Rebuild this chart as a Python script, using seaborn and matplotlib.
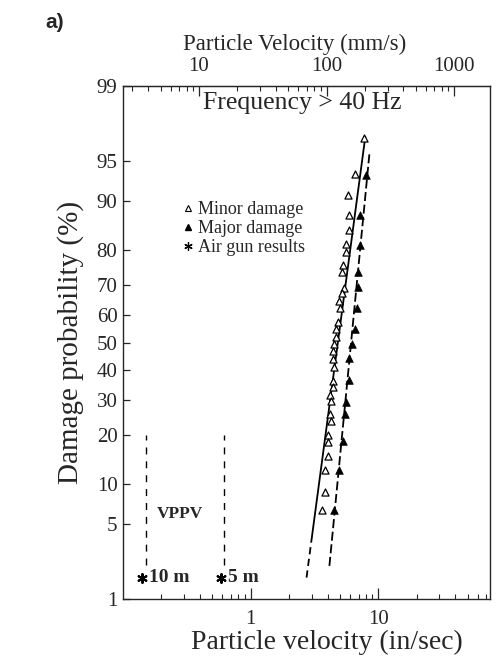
import math
import numpy as np
import pandas as pd
import matplotlib
matplotlib.use("Agg")
import matplotlib.pyplot as plt
import seaborn as sns
from matplotlib.lines import Line2D
from matplotlib.ticker import FixedLocator, FuncFormatter, LogLocator, NullLocator, NullFormatter

## data (velocity in in/sec, probability in %)
minor_v = [7.77, 6.61, 5.83, 5.93, 5.93, 5.62, 5.62, 5.33, 5.23, 5.42, 5.23, 4.96,
           5.05, 4.87, 4.70, 4.70, 4.53, 4.45, 4.45, 4.53, 4.45, 4.45, 4.22, 4.29,
           4.22, 4.29, 4.07, 4.07, 4.00, 3.85, 3.85, 3.59]
minor_p = [96.8, 93.7, 90.9, 87.6, 84.6, 81.5, 79.3, 75.8, 73.8, 68.9, 67.3, 64.7,
           62.3, 57.5, 55.0, 52.1, 49.3, 46.8, 44.0, 41.1, 36.3, 34.3, 31.7, 29.8,
           25.9, 23.9, 20.0, 18.3, 15.2, 12.4, 8.8, 6.4]

major_v = [8.06, 7.23, 7.23, 6.98, 6.98, 6.85, 6.61, 6.26, 5.93, 5.93, 5.62, 5.52,
           5.33, 4.96, 4.53]
major_p = [93.6, 87.6, 81.2, 73.8, 69.2, 62.3, 55.0, 49.6, 44.3, 36.7, 29.5, 25.9,
           18.5, 12.4, 6.4]

# fitted lines (solid part + dashed extension for minor damage)
minor_fit_v = [3.02, 7.91]
minor_fit_p = [3.9, 96.9]
minor_ext_v = [2.74, 3.02]
minor_ext_p = [1.65, 3.9]
major_fit_v = [4.14, 8.51]
major_fit_p = [2.14, 95.6]

# air gun results
airgun_v = [0.141, 0.583]
airgun_p = [1.65, 1.65]
airgun_labels = ["10 m", "5 m"]
vppv_v = [0.151, 0.615]
vppv_p = [2.2, 20.0]

y_ticks = [1, 5, 10, 20, 30, 40, 50, 60, 70, 80, 90, 95, 99]
x_ticks = [1, 10]
top_ticks = [10, 100, 1000]


## normal probability scale (no scipy here)
A = [-3.969683028665376e+01, 2.209460984245205e+02, -2.759285104469687e+02,
     1.383577518672690e+02, -3.066479806614716e+01, 2.506628277459239e+00]
B = [-5.447609879822406e+01, 1.615858368580409e+02, -1.556989798598866e+02,
     6.680131188771972e+01, -1.328068155288572e+01]
C = [-7.784894002430293e-03, -3.223964580411365e-01, -2.400758277161838e+00,
     -2.549671348251281e+00, 4.374664141464968e+00, 2.938163982698783e+00]
D = [7.784695709041462e-03, 3.224671290700398e-01, 2.445134137142996e+00,
     3.754408661907416e+00]
PLOW = 0.02425


def probit(pct):
    shape = np.shape(pct)
    p = np.atleast_1d(np.clip(np.asarray(pct, dtype=float) / 100.0, 1e-9, 1 - 1e-9))
    z = np.empty_like(p)
    lo = p < PLOW
    hi = p > 1 - PLOW
    mid = ~(lo | hi)
    q = p[mid] - 0.5
    r = q * q
    z[mid] = ((((((A[0]*r + A[1])*r + A[2])*r + A[3])*r + A[4])*r + A[5]) * q /
              (((((B[0]*r + B[1])*r + B[2])*r + B[3])*r + B[4])*r + 1))
    q = np.sqrt(-2 * np.log(p[lo]))
    z[lo] = (((((C[0]*q + C[1])*q + C[2])*q + C[3])*q + C[4])*q + C[5]) / \
            ((((D[0]*q + D[1])*q + D[2])*q + D[3])*q + 1)
    q = np.sqrt(-2 * np.log(1 - p[hi]))
    z[hi] = -(((((C[0]*q + C[1])*q + C[2])*q + C[3])*q + C[4])*q + C[5]) / \
             ((((D[0]*q + D[1])*q + D[2])*q + D[3])*q + 1)
    return z.reshape(shape)


_erf = np.vectorize(math.erf, otypes=[float])


def inv_probit(z):
    z = np.asarray(z, dtype=float)
    return 50.0 * (1.0 + _erf(z / math.sqrt(2.0)))


sns.set_style("ticks")
plt.rcParams['font.family'] = ['Liberation Serif', 'DejaVu Serif']

fig = plt.figure(figsize=(5.0, 6.58), dpi=100)
ax = fig.add_axes([123/500, 1 - 599/658, (490 - 123)/500, (599 - 86)/658])

ax.set_xscale('log')
ax.set_yscale('function', functions=(probit, inv_probit))

minor_df = pd.DataFrame({"v": minor_v, "p": minor_p})
major_df = pd.DataFrame({"v": major_v, "p": major_p})

ax.plot(minor_fit_v, minor_fit_p, color="black", lw=1.3, zorder=2)
ax.plot(minor_ext_v, minor_ext_p, color="black", lw=1.3, dashes=(4, 2.5), zorder=2)
ax.plot(major_fit_v, major_fit_p, color="black", lw=1.3, dashes=(5, 2), zorder=2)

sns.scatterplot(data=minor_df, x="v", y="p", marker="^", s=26, color="white",
                edgecolor="black", linewidth=0.9, ax=ax, zorder=3)
sns.scatterplot(data=major_df, x="v", y="p", marker="^", s=30, color="black",
                edgecolor="black", linewidth=0.5, ax=ax, zorder=3)

# air gun results + VPPV lines
for v in vppv_v:
    ax.plot([v, v], vppv_p, color="black", lw=1.0, dashes=(5, 5))
ax.scatter(airgun_v, airgun_p, marker=(6, 2, 0), s=40, color="black", linewidth=1.5)
for v, p, lab in zip(airgun_v, airgun_p, airgun_labels):
    ax.annotate(lab, (v, p), xytext=(5, 0), textcoords="offset points",
                ha="left", va="center", fontsize=14, fontweight="bold")
ax.text(0.279, 5.95, "VPPV", ha="center", va="center", fontsize=12.5, fontweight="bold")

ax.text(0.488, 0.967, "Frequency > 40 Hz", transform=ax.transAxes,
        ha="center", va="center", fontsize=18.5)

handles = [
    Line2D([], [], ls="none", marker="^", ms=4.5, mfc="white", mec="black", mew=0.8),
    Line2D([], [], ls="none", marker="^", ms=4.5, mfc="black", mec="black"),
    Line2D([], [], ls="none", marker=(6, 2, 0), ms=6, color="black", mew=0.9),
]
ax.legend(handles, ["Minor damage", "Major damage", "Air gun results"],
          loc="upper left", bbox_to_anchor=(0.165, 0.775), frameon=False,
          fontsize=13, handlelength=0.5, handletextpad=0.3, labelspacing=0.1,
          borderpad=0, borderaxespad=0)

ax.set_xlim(0.1, 75)
ax.set_ylim(1, 99)

ax.yaxis.set_major_locator(FixedLocator(y_ticks))
ax.yaxis.set_major_formatter(FuncFormatter(lambda v, pos: f"{v:g}"))
ax.yaxis.set_minor_locator(NullLocator())
ax.xaxis.set_major_locator(FixedLocator(x_ticks))
ax.xaxis.set_major_formatter(FuncFormatter(lambda v, pos: f"{v:g}"))
ax.xaxis.set_minor_locator(LogLocator(base=10, subs=np.arange(2, 10)))
ax.xaxis.set_minor_formatter(NullFormatter())

ax.tick_params(axis="y", which="major", direction="in", length=5, width=0.9,
               labelsize=15, pad=4)
ax.tick_params(axis="x", which="major", direction="in", length=8, width=0.9,
               labelsize=15, pad=8)
ax.tick_params(axis="x", which="minor", direction="in", length=3.5, width=0.8)
for s in ax.spines.values():
    s.set_linewidth(1.0)
    s.set_visible(True)

# top axis in mm/s
secax = ax.secondary_xaxis("top", functions=(lambda v: v * 25.4, lambda m: m / 25.4))
secax.xaxis.set_major_locator(FixedLocator(top_ticks))
secax.xaxis.set_major_formatter(FuncFormatter(lambda v, pos: f"{v:g}"))
secax.xaxis.set_minor_locator(LogLocator(base=10, subs=np.arange(2, 10)))
secax.xaxis.set_minor_formatter(NullFormatter())
secax.tick_params(which="major", direction="in", length=7, width=0.9, labelsize=15, pad=7)
secax.tick_params(which="minor", direction="in", length=3.5, width=0.8)
secax.set_xlabel("Particle Velocity (mm/s)", fontsize=16.5, labelpad=5)
secax.xaxis.label.set_x(0.469)

ax.set_xlabel("Particle velocity (in/sec)", fontsize=20, va="center")
ax.xaxis.set_label_coords(0.556, -0.084)
ax.set_ylabel("Damage probability (%)", fontsize=21, va="center")
ax.yaxis.set_label_coords(-0.142, 0.5)

fig.text(0.09, 1 - 22/658, "a)", fontsize=15, fontweight="bold",
         family=["Liberation Sans", "DejaVu Sans"], ha="left", va="center")

fig.savefig("out.png", dpi=100)
